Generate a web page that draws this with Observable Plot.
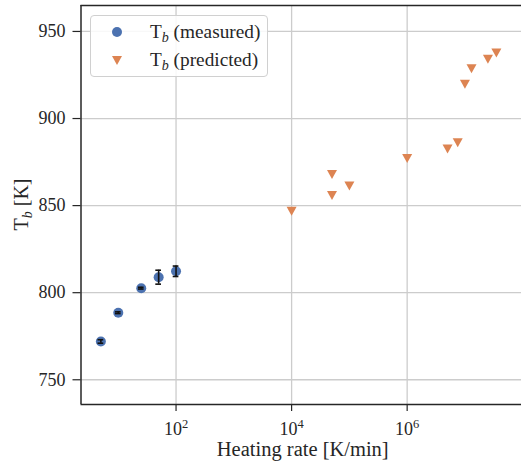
<!DOCTYPE html>
<html><head><meta charset="utf-8">
<script src="https://cdn.jsdelivr.net/npm/d3@7"></script>
<script src="https://cdn.jsdelivr.net/npm/@observablehq/plot@0.6"></script>
<style>
body{margin:0;background:#fff;overflow:hidden}
#wrap{position:relative;width:521px;height:469px;font-family:"Liberation Serif",serif}
#legend{position:absolute;left:90px;top:15px;width:178px;height:62px;border:1px solid #d0d0d0;border-radius:4px;background:rgba(255,255,255,0.85);box-sizing:border-box}
.row{position:absolute;left:0;height:22px;font-size:19.3px;color:#262626;white-space:nowrap}
.row svg{position:absolute;left:16px;top:1px}
.row span{position:absolute;left:59px;top:0;line-height:22px}
.row sub{font-style:italic;font-size:14px;vertical-align:-4px;line-height:0}
</style>
</head><body><div id="wrap"></div>
<script>
// data
const measuredRate = [5, 10, 25, 50, 100];
const measuredTb   = [772.0, 788.5, 802.6, 808.9, 812.3];
const measuredErr  = [1.0, 0.5, 0.5, 4.0, 3.0];
const predictedRate = [1e4, 5e4, 5e4, 1e5, 1e6, 5e6, 7.5e6, 1e7, 1.3e7, 2.5e7, 3.5e7];
const predictedTb   = [847.0, 868.2, 856.1, 861.5, 877.4, 882.8, 886.4, 919.9, 928.9, 934.3, 937.9];
const xTicks = [1e2, 1e4, 1e6];
const xTickExp = ["2", "4", "6"];
const yTicks = [750, 800, 850, 900, 950];
const seriesNames = ["measured", "predicted"];
const colors = ["#4c72b0", "#dd8452"];

const measured = measuredRate.map((x, i) => ({x, y: measuredTb[i], e: measuredErr[i]}));
const predicted = predictedRate.map((x, i) => ({x, y: predictedTb[i]}));

const triDown = {
  draw(ctx, size) {
    const r = Math.sqrt(size / Math.PI);
    ctx.moveTo(-r, -0.8 * r);
    ctx.lineTo(r, -0.8 * r);
    ctx.lineTo(0, r);
    ctx.closePath();
  }
};

const xDom = [10 ** 0.355, 10 ** 7.979];
const yDom = [735.8, 964.9];
const capF = 1.12;
const spine = "#262626";
const grid = "#cccccc";

const plot = Plot.plot({
  width: 521, height: 469,
  marginLeft: 80.5, marginRight: 0, marginTop: 5, marginBottom: 65,
  style: {fontFamily: "Liberation Serif", fontSize: "18px", background: "white", color: spine},
  x: {type: "log", domain: xDom, label: null},
  y: {domain: yDom, label: null},
  marks: [
    Plot.gridX(xTicks, {stroke: grid, strokeOpacity: 1, strokeWidth: 1.3}),
    Plot.gridY(yTicks, {stroke: grid, strokeOpacity: 1, strokeWidth: 1.3}),
    Plot.ruleX([xDom[0]], {stroke: spine, strokeWidth: 1.5}),
    Plot.ruleY([yDom[0], yDom[1]], {stroke: spine, strokeWidth: 1.5}),
    Plot.axisX(xTicks, {tickSize: 7, tickPadding: 11, stroke: spine, strokeWidth: 1.2, tickFormat: () => "10"}),
    Plot.axisY(yTicks, {tickSize: 8, tickPadding: 7.5, stroke: spine, strokeWidth: 1.2}),
    Plot.dot(predicted, {x: "x", y: "y", r: 5, symbol: triDown, fill: colors[1], stroke: "none"}),
    Plot.dot(measured, {x: "x", y: "y", r: 5, fill: colors[0], stroke: "none"}),
    Plot.ruleX(measured, {x: "x", y1: d => d.y - d.e, y2: d => d.y + d.e, stroke: "#111", strokeWidth: 1.6}),
    Plot.ruleY(measured, {y: d => d.y - d.e, x1: d => d.x / capF, x2: d => d.x * capF, stroke: "#111", strokeWidth: 1.6}),
    Plot.ruleY(measured, {y: d => d.y + d.e, x1: d => d.x / capF, x2: d => d.x * capF, stroke: "#111", strokeWidth: 1.6})
  ]
});

const wrap = document.getElementById("wrap");
wrap.appendChild(plot);
const svg = d3.select(plot);

// superscript exponents on x tick labels
svg.selectAll('g[aria-label="x-axis tick label"] text').each(function(d, i) {
  const t = d3.select(this);
  t.text(null);
  t.append("tspan").text("10");
  t.append("tspan").attr("dy", "-0.6em").style("font-size", "12.5px").text(xTickExp[i]);
});

// axis labels
svg.append("text")
  .attr("x", (80.5 + 521) / 2 + 2).attr("y", 456)
  .attr("text-anchor", "middle").style("font-size", "20.5px").attr("fill", spine)
  .text("Heating rate [K/min]");
const yl = svg.append("text")
  .attr("transform", `translate(28,${(5 + 404) / 2}) rotate(-90)`)
  .attr("text-anchor", "middle").style("font-size", "20px").attr("fill", spine);
yl.append("tspan").text("T");
yl.append("tspan").attr("dy", 4).style("font-size", "14px").attr("font-style", "italic").text("b");
yl.append("tspan").attr("dy", -4).text(" [K]");

// legend
const legend = document.createElement("div");
legend.id = "legend";
legend.innerHTML = `
<div class="row" style="top:5px"><svg width="20" height="20"><circle cx="10" cy="10" r="5" fill="${colors[0]}"/></svg><span>T<sub>b</sub> (${seriesNames[0]})</span></div>
<div class="row" style="top:33px"><svg width="20" height="20"><path d="M5,6 L15,6 L10,15 Z" fill="${colors[1]}"/></svg><span>T<sub>b</sub> (${seriesNames[1]})</span></div>`;
wrap.appendChild(legend);
</script>
</body></html>
